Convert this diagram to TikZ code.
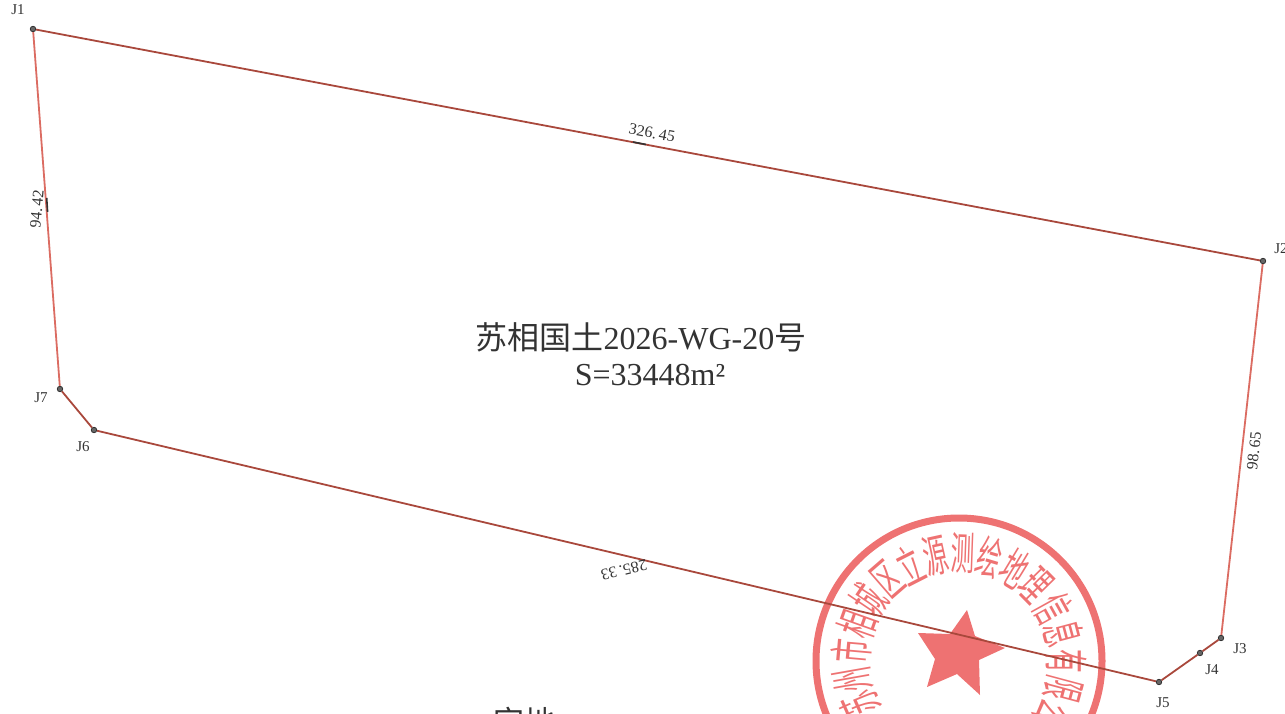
\documentclass[tikz,border=0pt]{standalone}
\usepackage{fontspec}
\setmainfont{Liberation Serif}
\newfontfamily\cjk{Noto Sans CJK SC}
\definecolor{seal}{HTML}{EE7272}
\definecolor{edgeA}{HTML}{A9483C}
\definecolor{edgeB}{HTML}{DB6C62}
\definecolor{inkc}{HTML}{333333}
\tikzset{
  pt/.style={circle,draw=inkc,fill=inkc!75,line width=.8pt,inner sep=0pt,minimum size=5.5pt},
  lab/.style={font=\fontsize{15}{15}\selectfont,text=inkc,inner sep=0pt},
  dim/.style={font=\fontsize{16}{16}\selectfont,text=inkc,inner sep=0pt},
  edgedark/.style={draw=edgeA,line width=1.8pt},
  edgelight/.style={draw=edgeB,line width=1.8pt},
  tick/.style={draw=inkc,line width=1.6pt},
  sealchar/.style={font=\cjk\fontsize{28}{28}\selectfont,text=seal,inner sep=0pt,xscale=.85,yscale=1.6},
  title/.style={font=\fontsize{32}{32}\selectfont,text=inkc,inner sep=0pt}
}
\begin{document}
\begin{tikzpicture}[x=1pt,y=-1pt]
\useasboundingbox (0,0) rectangle (1285,713);
\clip (0,0) rectangle (1285,713);
% seal
\coordinate (sc) at (959,661);
\node[circle,draw=seal,line width=7pt,minimum size=286pt,inner sep=0pt] (sealring) at (sc) {};
\foreach \c/\a [count=\i] in {苏/204,州/190,市/175,相/160.5,城/146,区/131,立/117,源/102.5,测/88,绘/73.5,地/59,理/44.5,信/29,息/15,有/0,限/-15,公/-30,司/-44}{
  \pgfmathsetmacro\px{959+108*cos(\a)}
  \pgfmathsetmacro\py{661-108*sin(\a)}
  \pgfmathsetmacro\rot{\a-90}
  \node[rotate=\rot,sealchar] (s\i) at (\px,\py) {\c};
}
\fill[seal] (967,610) -- (975,636) -- (1005,648) -- (979,660) -- (980,695) -- (957,674) -- (927,687) -- (935,659) -- (918,633) -- (950,634) -- cycle;
% vertices
\node[pt] (J1) at (33,29) {};
\node[pt] (J2) at (1263,261) {};
\node[pt] (J3) at (1221,638) {};
\node[pt] (J4) at (1200,653) {};
\node[pt] (J5) at (1159,682) {};
\node[pt] (J6) at (94,430) {};
\node[pt] (J7) at (60,389) {};
% edges
\draw[edgedark] (J1) -- (J2);
\draw[edgelight] (J2) -- (J3);
\draw[edgedark] (J3) -- (J4);
\draw[edgedark] (J4) -- (J5);
\draw[edgedark] (J5) -- (J6);
\draw[edgedark] (J6) -- (J7);
\draw[edgelight] (J7) -- (J1);
% short dark marks on the lines
\coordinate (m1a) at (633,142);
\coordinate (m1b) at (646,144.5);
\coordinate (m2a) at (46.7,198);
\coordinate (m2b) at (47.6,212);
\draw[tick] (m1a) -- (m1b);
\draw[tick] (m2a) -- (m2b);
% labels
\node[lab] (lJ1) at (18,10) {J1};
\node[lab] (lJ2) at (1281,249) {J2};
\node[lab] (lJ3) at (1240,649) {J3};
\node[lab] (lJ4) at (1212,670) {J4};
\node[lab] (lJ5) at (1163,703) {J5};
\node[lab] (lJ6) at (83,447) {J6};
\node[lab] (lJ7) at (41,398) {J7};
\node[dim,rotate=-10.7] (d1) at (652,133) {326.\,45};
\node[dim,rotate=85] (d2) at (37,209) {94.\,42};
\node[dim,rotate=83.5] (d3) at (1254,451) {98.\,65};
\node[dim,rotate=193.3] (d4) at (624,570) {285.\,33};
% centre text
\node[title] (t1) at (641,337) {{\cjk 苏相国土}2026-WG-20{\cjk 号}};
\node[title] (t2) at (650,375) {S=33448m²};
\node[title,font=\cjk\fontsize{31}{31}\selectfont] (t3) at (524,721) {宅地};
\end{tikzpicture}
\end{document}
